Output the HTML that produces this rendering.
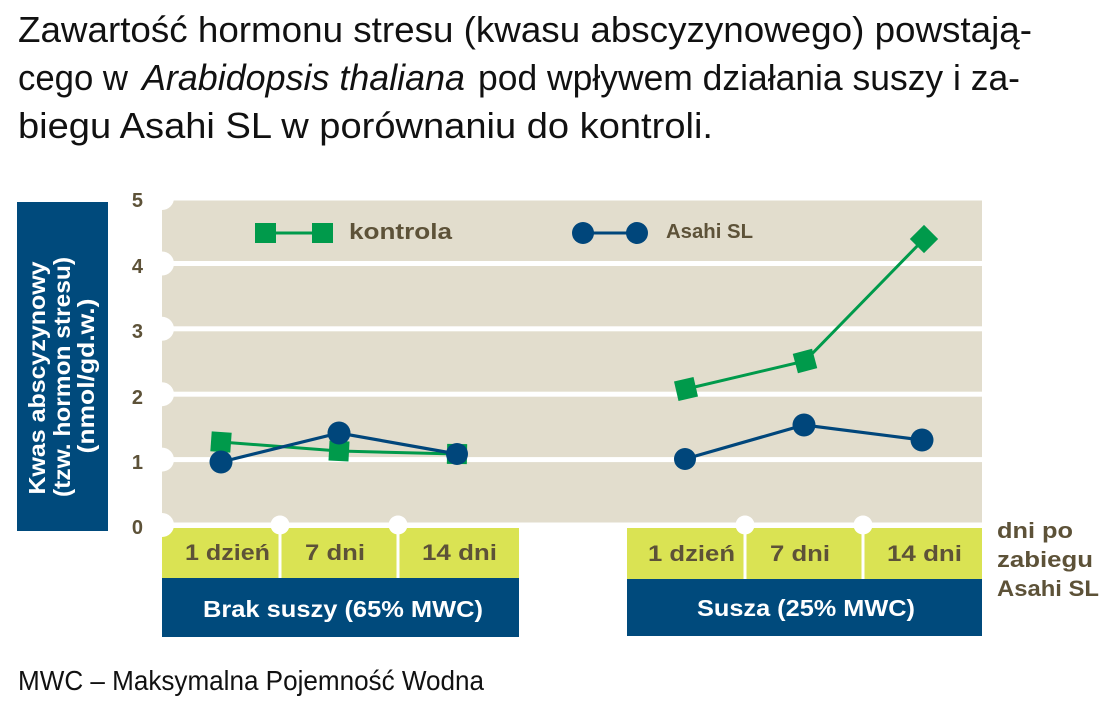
<!DOCTYPE html>
<html><head><meta charset="utf-8"><style>
html,body{margin:0;padding:0;background:#fff;}
svg{display:block;}
</style></head><body>
<svg width="1120" height="716" viewBox="0 0 1120 716" xmlns="http://www.w3.org/2000/svg">
<!-- Title -->
<g font-family="'Liberation Sans', sans-serif" font-size="36" fill="#111">
<text x="18" y="42" textLength="1014" lengthAdjust="spacingAndGlyphs">Zawartość hormonu stresu (kwasu abscyzynowego) powstają-</text>
<text x="18" y="90" textLength="110" lengthAdjust="spacingAndGlyphs">cego w</text>
<text x="142" y="90" font-style="italic" textLength="323" lengthAdjust="spacingAndGlyphs">Arabidopsis thaliana</text>
<text x="478" y="90" textLength="542" lengthAdjust="spacingAndGlyphs">pod wpływem działania suszy i za-</text>
<text x="18" y="138" textLength="695" lengthAdjust="spacingAndGlyphs">biegu Asahi SL w porównaniu do kontroli.</text>
</g>

<!-- Y axis label box -->
<rect x="17" y="202" width="91" height="329" fill="#004a7c"/>
<g font-family="'Liberation Sans', sans-serif" font-size="23" font-weight="bold" fill="#fff" text-anchor="middle">
<text transform="translate(45,378) rotate(-90)" textLength="233" lengthAdjust="spacingAndGlyphs">Kwas abscyzynowy</text>
<text transform="translate(70,377) rotate(-90)" textLength="240" lengthAdjust="spacingAndGlyphs">(tzw. hormon stresu)</text>
<text transform="translate(94,376) rotate(-90)" textLength="155" lengthAdjust="spacingAndGlyphs">(nmol/gd.w.)</text>
</g>

<!-- Plot background -->
<rect x="162" y="198" width="820" height="327" fill="#e2ddcd"/>
<!-- gridlines -->
<g fill="#fff">
<rect x="162" y="195.5" width="820" height="5"/>
<rect x="162" y="261" width="820" height="5"/>
<rect x="162" y="326.3" width="820" height="5"/>
<rect x="162" y="391.7" width="820" height="5"/>
<rect x="162" y="457.1" width="820" height="5"/>
<rect x="162" y="522.5" width="820" height="5"/>
<circle cx="162" cy="198" r="12"/>
<circle cx="162" cy="263.5" r="12"/>
<circle cx="162" cy="328.8" r="12"/>
<circle cx="162" cy="394.2" r="12"/>
<circle cx="162" cy="459.6" r="12"/>
</g>

<!-- Y ticks -->
<g font-family="'Liberation Sans', sans-serif" font-size="20" font-weight="bold" fill="#5d5238" text-anchor="end">
<text x="143" y="207">5</text>
<text x="143" y="273">4</text>
<text x="143" y="338">3</text>
<text x="143" y="404">2</text>
<text x="143" y="469">1</text>
<text x="143" y="534">0</text>
</g>

<!-- Bottom category boxes -->
<rect x="162" y="528" width="357" height="50" fill="#dae353"/>
<rect x="627" y="528" width="355" height="51" fill="#dae353"/>
<rect x="162" y="578" width="357" height="59" fill="#004a7c"/>
<rect x="627" y="579" width="355" height="57" fill="#004a7c"/>
<g fill="#fff">
<rect x="278.5" y="525" width="3" height="53"/>
<rect x="396.5" y="525" width="3" height="53"/>
<rect x="743.5" y="525" width="3" height="54"/>
<rect x="861.5" y="525" width="3" height="54"/>
<circle cx="162" cy="525" r="12"/>
<circle cx="280" cy="525" r="9.5"/>
<circle cx="398" cy="525" r="9.5"/>
<circle cx="745" cy="525" r="9.5"/>
<circle cx="863" cy="525" r="9.5"/>
</g>
<g font-family="'Liberation Sans', sans-serif" font-size="22" font-weight="bold" fill="#5d5238">
<text x="185" y="560" textLength="85" lengthAdjust="spacingAndGlyphs">1 dzień</text>
<text x="305" y="560" textLength="60" lengthAdjust="spacingAndGlyphs">7 dni</text>
<text x="422" y="560" textLength="75" lengthAdjust="spacingAndGlyphs">14 dni</text>
<text x="648" y="561" textLength="87" lengthAdjust="spacingAndGlyphs">1 dzień</text>
<text x="770" y="561" textLength="60" lengthAdjust="spacingAndGlyphs">7 dni</text>
<text x="887" y="561" textLength="75" lengthAdjust="spacingAndGlyphs">14 dni</text>
<text x="997" y="538" textLength="76" lengthAdjust="spacingAndGlyphs">dni po</text>
<text x="997" y="567" textLength="96" lengthAdjust="spacingAndGlyphs">zabiegu</text>
<text x="997" y="596" textLength="102" lengthAdjust="spacingAndGlyphs">Asahi SL</text>
</g>
<g font-family="'Liberation Sans', sans-serif" font-size="23" font-weight="bold" fill="#fff">
<text x="203" y="617" textLength="280" lengthAdjust="spacingAndGlyphs">Brak suszy (65% MWC)</text>
<text x="697" y="616" textLength="218" lengthAdjust="spacingAndGlyphs">Susza (25% MWC)</text>
</g>

<!-- Legend -->
<line x1="266" y1="233" x2="322" y2="233" stroke="#009a4b" stroke-width="3"/>
<rect x="255" y="223" width="21" height="20" fill="#009a4b"/>
<rect x="312" y="223" width="21" height="20" fill="#009a4b"/>
<text x="349" y="239" font-family="'Liberation Sans', sans-serif" font-size="22" font-weight="bold" fill="#5d5238" textLength="103" lengthAdjust="spacingAndGlyphs">kontrola</text>
<line x1="583" y1="233" x2="637" y2="233" stroke="#00467b" stroke-width="3"/>
<circle cx="583" cy="233" r="11" fill="#00467b"/>
<circle cx="637" cy="233" r="11" fill="#00467b"/>
<text x="666" y="238" font-family="'Liberation Sans', sans-serif" font-size="20" font-weight="bold" fill="#5d5238" textLength="87" lengthAdjust="spacingAndGlyphs">Asahi SL</text>

<!-- kontrola series -->
<g stroke="#009a4b" stroke-width="3" fill="none">
<polyline points="221,442 339,451 457,454"/>
<polyline points="686,389 805,361 924,239"/>
</g>
<g fill="#009a4b">
<rect x="-10" y="-10" width="20" height="20" transform="translate(221,442) rotate(4)"/>
<rect x="-10" y="-10" width="20" height="20" transform="translate(339,451) rotate(3)"/>
<rect x="-10" y="-10" width="20" height="20" transform="translate(457,454) rotate(1)"/>
<rect x="-10" y="-10" width="20" height="20" transform="translate(686,389) rotate(-13)"/>
<rect x="-10" y="-10" width="20" height="20" transform="translate(805,361) rotate(-15)"/>
<rect x="-10" y="-10" width="20" height="20" transform="translate(924,239) rotate(-45)"/>
</g>

<!-- Asahi series -->
<g stroke="#00467b" stroke-width="3.2" fill="none">
<polyline points="221,462 339,433 457,454"/>
<polyline points="685,459 804,425 922,440"/>
</g>
<g fill="#00467b">
<circle cx="221" cy="462" r="11.5"/>
<circle cx="339" cy="433" r="11.5"/>
<circle cx="457" cy="454" r="11"/>
<circle cx="685" cy="459" r="11"/>
<circle cx="804" cy="425" r="11.5"/>
<circle cx="922" cy="440" r="11.5"/>
</g>

<!-- Footer -->
<text x="18" y="690" font-family="'Liberation Sans', sans-serif" font-size="28" fill="#111" textLength="466" lengthAdjust="spacingAndGlyphs">MWC – Maksymalna Pojemność Wodna</text>
</svg>
</body></html>
